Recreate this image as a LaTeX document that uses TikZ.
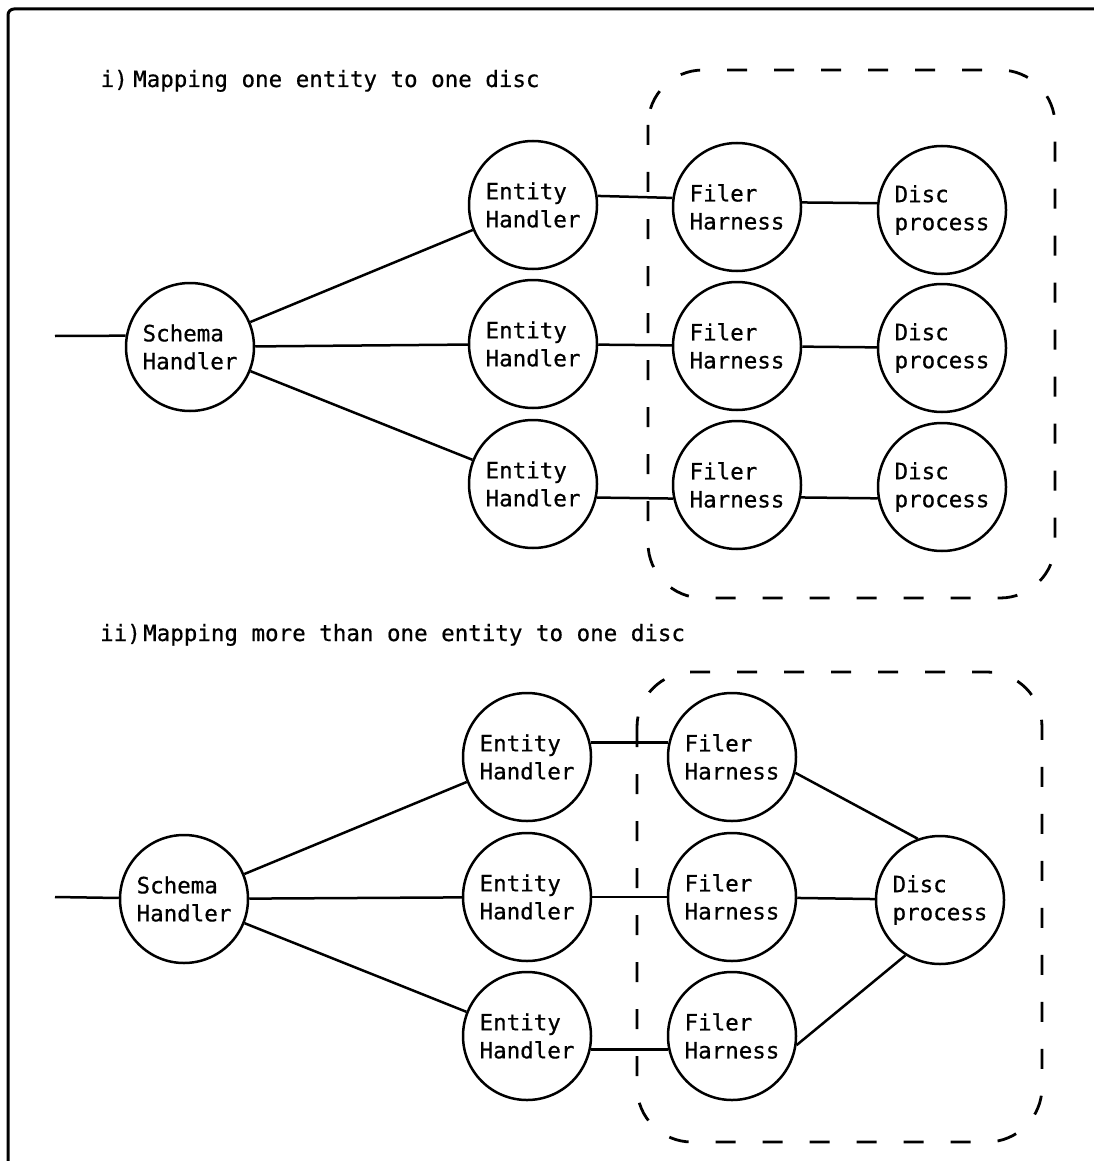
\documentclass[tikz,border=0pt]{standalone}
\usepackage{fontspec}
\newfontfamily\printfont{DejaVu Sans Mono}[FakeBold=0.6]
\begin{document}
\begin{tikzpicture}[x=1pt,y=-1pt,
  proc/.style={circle, draw, line width=2.5pt, minimum size=128pt, inner sep=0pt,
    align=left, font=\printfont\fontsize{22.5}{28}\selectfont},
  link/.style={line width=2.5pt},
  group/.style={line width=2.8pt, dash pattern=on 20pt off 27pt, rounded corners=55pt},
  heading/.style={inner sep=0pt, font=\printfont\fontsize{22.5}{28}\selectfont}]
\useasboundingbox (0,0) rectangle (1094,1161);

% frame
\draw[line width=3pt, rounded corners=6pt] (8,1161) -- (8,9) -- (1094,9);

% ---------- part i ----------
\node[heading, anchor=base east] (t1n) at (128,87) {i)};
\node[heading, anchor=base west] (t1) at (133,87) {Mapping one entity to one disc};

\node[proc] (s1) at (190,347) {Schema\\Handler};
\node[proc] (e1) at (533,205) {Entity\\Handler};
\node[proc] (e2) at (533,344) {Entity\\Handler};
\node[proc] (e3) at (533,484) {Entity\\Handler};
\node[proc] (f1) at (737,207) {Filer\\Harness};
\node[proc] (f2) at (737,346) {Filer\\Harness};
\node[proc] (f3) at (737,485) {Filer\\Harness};
\node[proc] (d1) at (942,210) {Disc\\process};
\node[proc] (d2) at (942,348) {Disc\\process};
\node[proc] (d3) at (942,487) {Disc\\process};

\coordinate (in1) at (55,336);
\draw[link] (in1) -- (s1.170);
\draw[link] (s1) -- (e1);
\draw[link] (s1) -- (e2);
\draw[link] (s1) -- (e3);
\draw[link] (e1.8) -- (f1.172);
\draw[link] (e2) -- (f2);
\draw[link] (e3.-12) -- (f3.-168);
\draw[link] (f1.4) -- (d1.174);
\draw[link] (f2) -- (d2);
\draw[link] (f3.-11) -- (d3.-170);

\draw[group] (648,70) rectangle (1055,598);

% ---------- part ii ----------
\node[heading, anchor=base east] (t2n) at (141,641) {ii)};
\node[heading, anchor=base west] (t2) at (143,641) {Mapping more than one entity to one disc};

\node[proc] (s2) at (184,899) {Schema\\Handler};
\node[proc] (e4) at (527,757) {Entity\\Handler};
\node[proc] (e5) at (527,897) {Entity\\Handler};
\node[proc] (e6) at (527,1036) {Entity\\Handler};
\node[proc] (f4) at (732,757) {Filer\\Harness};
\node[proc] (f5) at (732,897) {Filer\\Harness};
\node[proc] (f6) at (732,1036) {Filer\\Harness};
\node[proc] (d4) at (940,900) {Disc\\process};

\coordinate (in2) at (55,897);
\draw[link] (in2) -- (s2);
\draw[link] (s2) -- (e4);
\draw[link] (s2) -- (e5);
\draw[link] (s2) -- (e6);
\draw[link] (e4.13) -- (f4.167);
\draw[link] (e5) -- (f5);
\draw[link] (e6.-12) -- (f6.-168);
\draw[link] (f4.-14) -- (d4.110);
\draw[link] (f5) -- (d4);
\draw[link] (f6.-8) -- (d4.238);

\draw[group] (637,672) rectangle (1042,1142);
\end{tikzpicture}
\end{document}
